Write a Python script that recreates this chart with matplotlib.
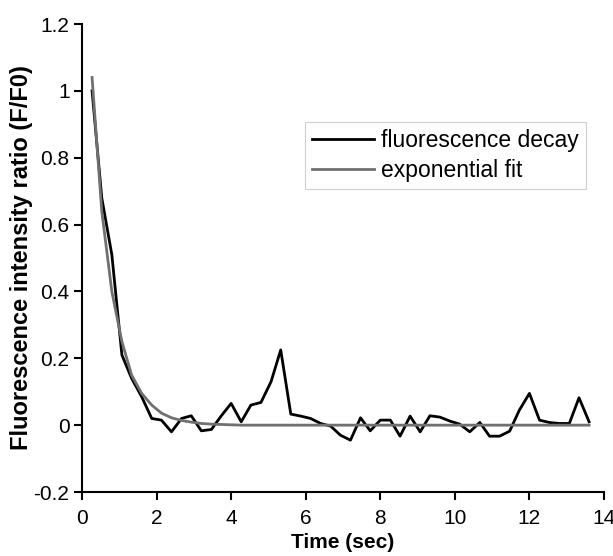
import numpy as np
import matplotlib
matplotlib.use("Agg")
import matplotlib.pyplot as plt

plt.rcParams['font.family'] = ['Liberation Sans', 'DejaVu Sans']

# sampling times (sec)
time_sec = [0.27, 0.53, 0.80, 1.07, 1.33, 1.60, 1.87, 2.13, 2.40, 2.67,
            2.93, 3.20, 3.47, 3.73, 4.00, 4.27, 4.53, 4.80, 5.07, 5.33,
            5.60, 5.87, 6.13, 6.40, 6.67, 6.93, 7.20, 7.47, 7.73, 8.00,
            8.27, 8.53, 8.80, 9.07, 9.33, 9.60, 9.87, 10.13, 10.40, 10.67,
            10.93, 11.20, 11.47, 11.73, 12.00, 12.27, 12.53, 12.80, 13.07, 13.33,
            13.60]

# measured F/F0
decay = [1.00, 0.68, 0.51, 0.21, 0.14, 0.085, 0.02, 0.015, -0.02, 0.02,
         0.028, -0.017, -0.013, 0.027, 0.065, 0.01, 0.06, 0.068, 0.13, 0.225,
         0.033, 0.027, 0.02, 0.005, -0.003, -0.03, -0.045, 0.022, -0.017, 0.015,
         0.015, -0.033, 0.027, -0.02, 0.028, 0.024, 0.012, 0.003, -0.02, 0.008,
         -0.033, -0.033, -0.018, 0.045, 0.095, 0.015, 0.008, 0.005, 0.005, 0.082,
         0.01]

# exponential fit
fit = [1.04, 0.64, 0.40, 0.25, 0.15, 0.095, 0.06, 0.036, 0.022, 0.014,
       0.009, 0.005, 0.003, 0.002, 0.001, 0, 0, 0, 0, 0,
       0, 0, 0, 0, 0, 0, 0, 0, 0, 0,
       0, 0, 0, 0, 0, 0, 0, 0, 0, 0,
       0, 0, 0, 0, 0, 0, 0, 0, 0, 0,
       0]

fig = plt.figure(figsize=(6.13, 5.56), dpi=100)
ax = fig.add_axes([82/613, 1 - 492/556, 522/613, 468/556])

ax.plot(time_sec, decay, color="black", linewidth=2.0, label="fluorescence decay")
ax.plot(time_sec, fit, color="#707070", linewidth=2.0, label="exponential fit")

ax.set_xlim(0, 14)
ax.set_ylim(-0.2, 1.2)
ax.set_xticks(range(0, 15, 2))
ax.set_yticks([-0.2, 0, 0.2, 0.4, 0.6, 0.8, 1, 1.2])
ax.set_yticklabels(["-0.2", "0", "0.2", "0.4", "0.6", "0.8", "1", "1.2"])

for s in ["top", "right"]:
    ax.spines[s].set_visible(False)
for s in ["left", "bottom"]:
    ax.spines[s].set_linewidth(1.5)
ax.tick_params(direction="out", length=6, width=1.5, labelsize=15, pad=3)
ax.tick_params(axis="x", pad=6)

ax.set_xlabel("Time (sec)", fontsize=15, fontweight="bold", labelpad=4)
ax.set_ylabel("Fluorescence intensity ratio (F/F0)", fontsize=17, fontweight="bold")
ax.yaxis.set_label_coords(-0.094, 0.5)

leg = ax.legend(loc="upper right", bbox_to_anchor=(0.965, 0.79), borderaxespad=0,
                fancybox=False, edgecolor="#c4c4c4", handlelength=2.7,
                fontsize=16.5, handletextpad=0.3, labelspacing=0.3, borderpad=0.3)
leg.get_frame().set_linewidth(0.8)

fig.savefig("out.png", dpi=100)
